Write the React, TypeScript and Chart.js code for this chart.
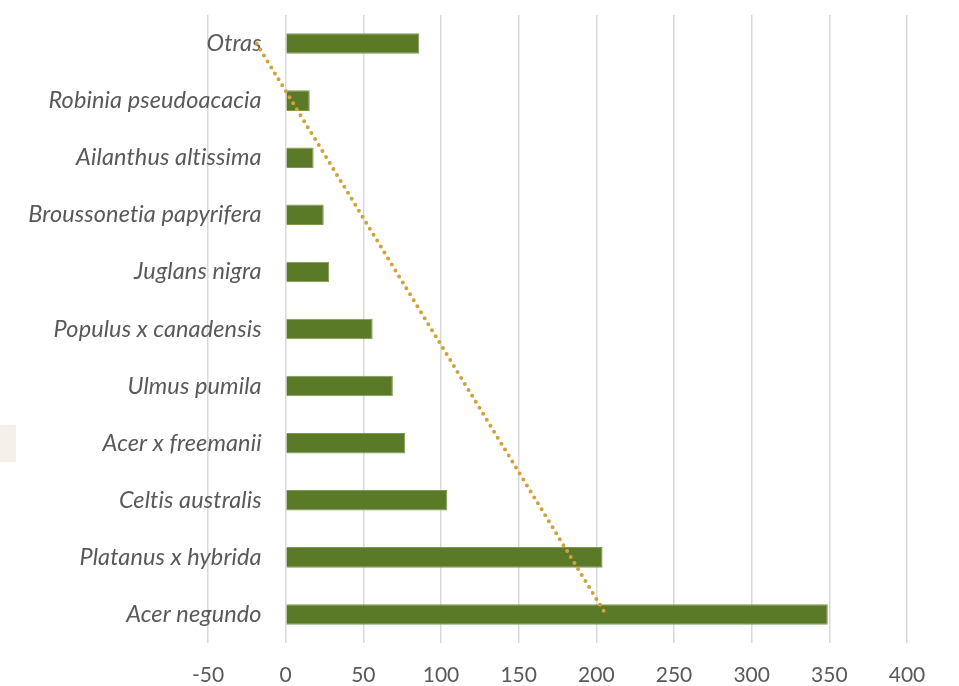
import React, { useEffect, useRef } from "react";
import { Chart, registerables } from "chart.js";

Chart.register(...registerables);

// Categories, top to bottom as displayed
const species: string[] = [
  "Otras",
  "Robinia pseudoacacia",
  "Ailanthus altissima",
  "Broussonetia papyrifera",
  "Juglans nigra",
  "Populus x canadensis",
  "Ulmus pumila",
  "Acer x freemanii",
  "Celtis australis",
  "Platanus x hybrida",
  "Acer negundo",
];

const counts: number[] = [86, 15.5, 18, 24.5, 28, 56, 69, 77, 104, 204, 349];

const xMin = -50;
const xMax = 400;
const xStep = 50;

// Linear trendline (least squares over category index), as Excel computes
function linearTrend(values: number[]): number[] {
  const n = values.length;
  const xs = values.map((_, i) => i + 1);
  const mx = xs.reduce((a, b) => a + b, 0) / n;
  const my = values.reduce((a, b) => a + b, 0) / n;
  let num = 0;
  let den = 0;
  for (let i = 0; i < n; i++) {
    num += (xs[i] - mx) * (values[i] - my);
    den += (xs[i] - mx) * (xs[i] - mx);
  }
  const slope = num / den;
  return xs.map((x) => my + slope * (x - mx));
}

// Draws category labels next to the value-axis zero line (Excel style)
const categoryLabelsAtZero = {
  id: "categoryLabelsAtZero",
  beforeDatasetsDraw(chart: any) {
    const { ctx, scales } = chart;
    const xs = scales.x;
    const ys = scales.y;
    const labels: string[] = chart.data.labels;
    const right = xs.getPixelForValue(0) - 24;
    ctx.save();
    ctx.font = "italic 23.5px Lato";
    try {
      (ctx as any).letterSpacing = "0.1px";
    } catch (e) {}
    ctx.fillStyle = "#595959";
    ctx.textAlign = "right";
    ctx.textBaseline = "middle";
    labels.forEach((lab, i) => {
      ctx.fillText(lab, right, ys.getPixelForTick(i));
    });
    ctx.restore();
  },
};

export default function App() {
  const canvasRef = useRef<HTMLCanvasElement | null>(null);

  useEffect(() => {
    document.body.style.margin = "0";
    const ctx = canvasRef.current;
    if (!ctx) return;
    const trend = linearTrend(counts);
    const chart = new Chart(ctx, {
      type: "bar",
      data: {
        labels: species,
        datasets: [
          {
            type: "line",
            indexAxis: "y",
            data: trend,
            borderColor: "#CFA23C",
            borderWidth: 4,
            borderDash: [0, 7],
            borderCapStyle: "round",
            pointRadius: 0,
            fill: false,
            order: 0,
          } as any,
          {
            type: "bar",
            data: counts,
            backgroundColor: "#5B7A28",
            borderColor: "#7E9A52",
            borderWidth: 1,
            barPercentage: 0.36,
            categoryPercentage: 1,
            order: 1,
          } as any,
        ],
      },
      options: {
        indexAxis: "y",
        animation: false,
        responsive: false,
        maintainAspectRatio: false,
        layout: { padding: { left: 208, right: 52, top: 15, bottom: 0 } },
        plugins: {
          legend: { display: false },
          tooltip: { enabled: false },
        },
        scales: {
          x: {
            type: "linear",
            min: xMin,
            max: xMax,
            position: "bottom",
            ticks: {
              stepSize: xStep,
              color: "#595959",
              font: { family: "Lato", size: 21 },
              padding: 20,
            },
            grid: {
              color: "#D9D9D9",
              lineWidth: 1.5,
              drawTicks: false,
            },
            border: { display: false },
            afterFit(scale: any) {
              scale.height = 43;
            },
          },
          y: {
            type: "category",
            position: "left",
            offset: true,
            ticks: { display: false },
            grid: { display: false, drawTicks: false },
            border: { display: false },
            afterFit(scale: any) {
              scale.width = 0;
            },
          },
        },
      } as any,
      plugins: [categoryLabelsAtZero],
    });
    return () => chart.destroy();
  }, []);

  return (
    <div style={{ position: "relative", width: 959, height: 686, background: "#fff" }}>
      <div
        style={{
          position: "absolute",
          left: 0,
          top: 425,
          width: 16,
          height: 37,
          background: "#F4F0EA",
        }}
      />
      <canvas ref={canvasRef} width={959} height={686} style={{ position: "absolute", left: 0, top: 0 }} />
    </div>
  );
}
